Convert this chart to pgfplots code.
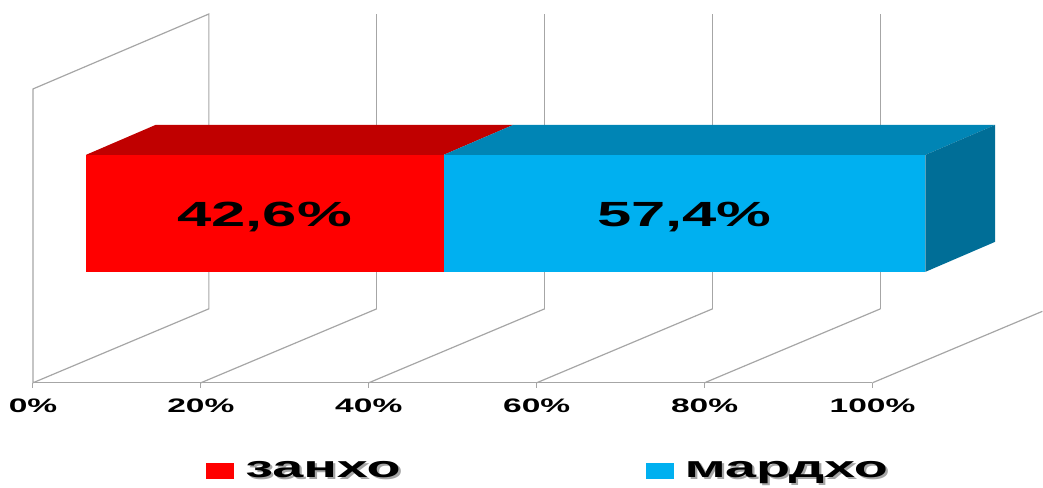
\documentclass[border=0pt]{standalone}
\usepackage{fontspec}
\setmainfont{Liberation Sans}[FakeStretch=1.72]
\newfontfamily\legfont{Liberation Sans}[FakeStretch=1.86]
\newfontfamily\barfont{Liberation Sans}[FakeStretch=1.76]
\usepackage{pgfplots}
\pgfplotsset{compat=1.18}
\definecolor{gridc}{HTML}{A6A6A6}
\definecolor{redfront}{HTML}{FF0000}
\definecolor{redtop}{HTML}{C00000}
\definecolor{bluefront}{HTML}{00B0F0}
\definecolor{bluetop}{HTML}{0085B5}
\definecolor{blueside}{HTML}{006E97}
\newcommand\shadowtext[1]{\makebox[0pt][l]{\hspace{1.2pt}\raisebox{-1.2pt}{\textcolor{black!35}{#1}}}#1}
\begin{document}
\begin{tikzpicture}
\begin{axis}[
  scale only axis, width=521.5pt, height=244pt,
  xmin=-3.93, xmax=120.24, ymin=-105, ymax=383,
  axis x line=middle, axis y line=none,
  x axis line style={draw=none},
  hide obscured x ticks=false,
  clip=false,
  xtick={0,20,40,60,80,100},
  xticklabels={0\%,20\%,40\%,60\%,80\%,100\%},
  xtick align=outside, major tick length=2.5pt,
  every tick/.style={gridc, line width=0.5pt},
  xticklabel style={font=\fontsize{9.75}{10}\selectfont\bfseries, yshift=-2pt},
  ytick=\empty,
  legend columns=2,
  legend style={at={(axis cs:20.6,-88)}, anchor=west, draw=none, fill=none,
    inner sep=0pt, font=\legfont\fontsize{15}{16}\selectfont\bfseries,
    /tikz/every odd column/.append style={column sep=3.5pt},
    /tikz/every even column/.append style={column sep=120.5pt}},
  legend image code/.code={\fill (0pt,-4pt) rectangle (14pt,4pt);},
]
\path (rel axis cs:0,0) rectangle (rel axis cs:1,1);
% left wall and 0% back line
\addplot[gridc, line width=0.6pt, forget plot] coordinates {(0,0) (0,294) (20.95,369) (20.95,74) (0,0)};
% back wall gridlines
\addplot[gridc, line width=0.6pt, forget plot] coordinates {(40.95,74) (40.95,369)};
\addplot[gridc, line width=0.6pt, forget plot] coordinates {(60.95,74) (60.95,369)};
\addplot[gridc, line width=0.6pt, forget plot] coordinates {(80.95,74) (80.95,369)};
\addplot[gridc, line width=0.6pt, forget plot] coordinates {(100.95,74) (100.95,369)};
% floor diagonals
\addplot[gridc, line width=0.6pt, forget plot] coordinates {(20,0) (40.95,74)};
\addplot[gridc, line width=0.6pt, forget plot] coordinates {(40,0) (60.95,74)};
\addplot[gridc, line width=0.6pt, forget plot] coordinates {(60,0) (80.95,74)};
\addplot[gridc, line width=0.6pt, forget plot] coordinates {(80,0) (100.95,74)};
\addplot[gridc, line width=0.6pt, forget plot] coordinates {(100,0) (120.24,71.5)};
% floor front line
\addplot[gridc, line width=0.6pt, forget plot] coordinates {(0,0) (100,0)};
% bar: занхо 42.6, мардхо 57.4
\addplot[fill=redfront, draw=none] coordinates {(6.3,111) (48.9,111) (48.9,228) (6.3,228)} -- cycle;
\addlegendentry{\shadowtext{занхо}}
\addplot[fill=redtop, draw=none, forget plot] coordinates {(6.3,228) (48.9,228) (57.2,258) (14.6,258)} -- cycle;
\addplot[fill=bluefront, draw=none] coordinates {(48.9,111) (106.3,111) (106.3,228) (48.9,228)} -- cycle;
\addlegendentry{\shadowtext{мардхо}}
\addplot[fill=bluetop, draw=none, forget plot] coordinates {(48.9,228) (106.3,228) (114.6,258) (57.2,258)} -- cycle;
\addplot[fill=blueside, draw=none, forget plot] coordinates {(106.3,111) (114.6,141) (114.6,258) (106.3,228)} -- cycle;
\node[font=\barfont\fontsize{17.5}{18}\selectfont\bfseries, anchor=base] at (axis cs:27.6,156.3) {42,6\%};
\node[font=\barfont\fontsize{17.5}{18}\selectfont\bfseries, anchor=base] at (axis cs:77.6,156.3) {57,4\%};
\end{axis}
\end{tikzpicture}
\end{document}
